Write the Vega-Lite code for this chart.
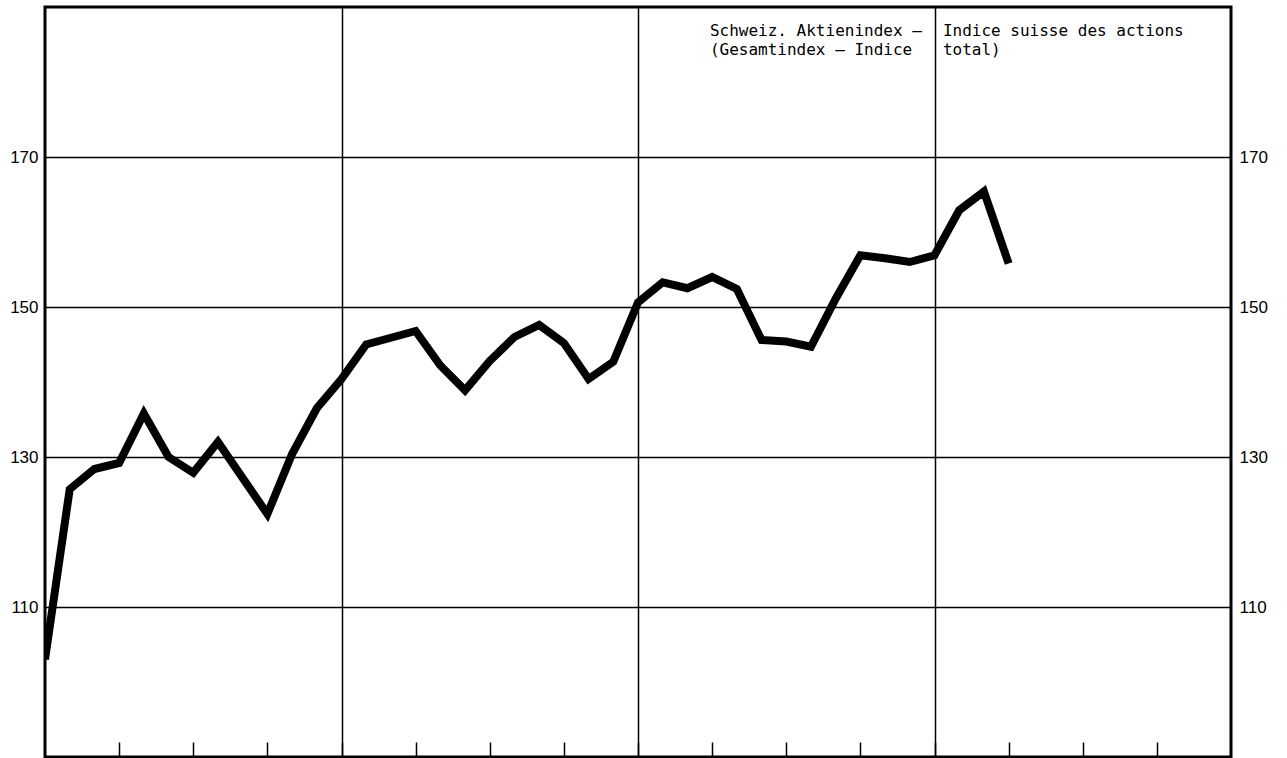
{
  "$schema": "https://vega.github.io/schema/vega-lite/v6.json",
  "width": 1186,
  "height": 750,
  "autosize": {"type": "none"},
  "padding": {"left": 45, "top": 7, "right": 56, "bottom": 1},
  "background": "white",
  "config": {
    "view": {"stroke": "black", "strokeWidth": 3},
    "font": "Liberation Sans",
    "axis": {"labelFont": "Liberation Sans", "labelColor": "black", "labelFontSize": 17, "domain": false},
    "text": {"lineBreak": "\n", "lineHeight": 19}
  },
  "layer": [
    {
      "data": {"values": [
        {"month": 0, "value": 103.0},
        {"month": 1, "value": 125.7},
        {"month": 2, "value": 128.4},
        {"month": 3, "value": 129.2},
        {"month": 4, "value": 135.8},
        {"month": 5, "value": 130.0},
        {"month": 6, "value": 127.9},
        {"month": 7, "value": 132.0},
        {"month": 8, "value": 127.2},
        {"month": 9, "value": 122.4},
        {"month": 10, "value": 130.4},
        {"month": 11, "value": 136.5},
        {"month": 12, "value": 140.4},
        {"month": 13, "value": 145.0},
        {"month": 14, "value": 145.9},
        {"month": 15, "value": 146.8},
        {"month": 16, "value": 142.2},
        {"month": 17, "value": 138.9},
        {"month": 18, "value": 142.8},
        {"month": 19, "value": 146.0},
        {"month": 20, "value": 147.6},
        {"month": 21, "value": 145.2},
        {"month": 22, "value": 140.4},
        {"month": 23, "value": 142.7},
        {"month": 24, "value": 150.6},
        {"month": 25, "value": 153.3},
        {"month": 26, "value": 152.5},
        {"month": 27, "value": 154.0},
        {"month": 28, "value": 152.4},
        {"month": 29, "value": 145.6},
        {"month": 30, "value": 145.4},
        {"month": 31, "value": 144.7},
        {"month": 32, "value": 151.1},
        {"month": 33, "value": 156.9},
        {"month": 34, "value": 156.5},
        {"month": 35, "value": 156.0},
        {"month": 36, "value": 156.9},
        {"month": 37, "value": 162.9},
        {"month": 38, "value": 165.4},
        {"month": 39, "value": 155.8}
      ]},
      "mark": {"type": "line", "color": "black", "strokeWidth": 8, "strokeJoin": "miter", "strokeCap": "butt", "clip": true},
      "encoding": {
        "x": {
          "field": "month", "type": "quantitative",
          "scale": {"domain": [0, 48], "nice": false, "zero": false},
          "axis": {
            "title": null, "labels": false,
            "values": [3, 6, 9, 12, 15, 18, 21, 24, 27, 30, 33, 36, 39, 42, 45],
            "ticks": true, "tickSize": -15, "tickColor": "black", "tickWidth": 1.5,
            "grid": true, "gridColor": "black", "gridWidth": 1.5,
            "gridOpacity": {"condition": {"test": "datum.value % 12 === 0", "value": 1}, "value": 0}
          }
        },
        "y": {
          "field": "value", "type": "quantitative",
          "scale": {"domain": [90, 190], "nice": false, "zero": false},
          "axis": {
            "orient": "left", "title": null, "values": [110, 130, 150, 170],
            "ticks": false, "labelPadding": 7,
            "grid": true, "gridColor": "black", "gridWidth": 1.5
          }
        }
      }
    },
    {
      "data": {"values": [
        {"month": 26.91, "value": 186.13, "label": "Schweiz. Aktienindex –\n(Gesamtindex  – Indice"},
        {"month": 36.34, "value": 186.13, "label": "Indice suisse des actions\ntotal)"}
      ]},
      "mark": {"type": "text", "align": "left", "baseline": "alphabetic", "fontSize": 16, "font": "DejaVu Sans Mono", "color": "black", "lineHeight": 19},
      "encoding": {
        "x": {"field": "month", "type": "quantitative", "scale": {"domain": [0, 48], "nice": false, "zero": false}},
        "y": {
          "field": "value", "type": "quantitative",
          "scale": {"domain": [90, 190], "nice": false, "zero": false},
          "axis": {
            "orient": "right", "title": null, "values": [110, 130, 150, 170],
            "ticks": false, "labelPadding": 8, "grid": false
          }
        },
        "text": {"field": "label", "type": "nominal"}
      }
    }
  ],
  "resolve": {"axis": {"y": "independent"}}
}
